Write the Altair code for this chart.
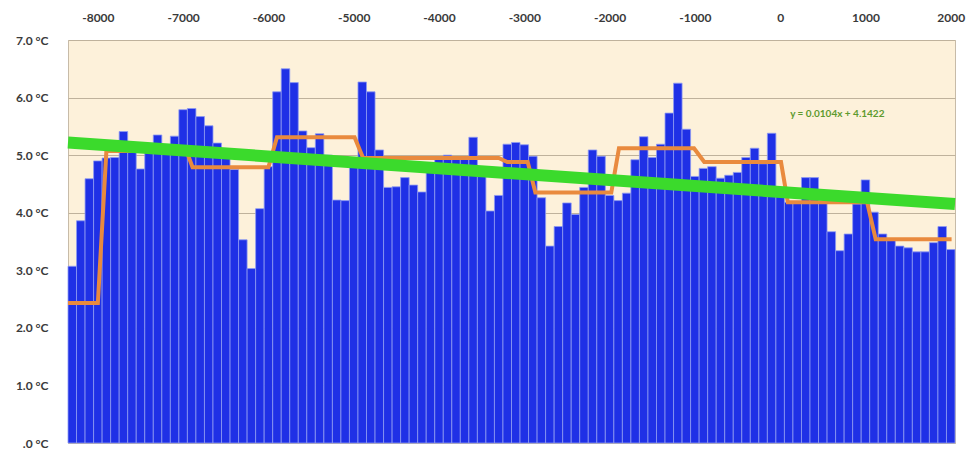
import altair as alt
import pandas as pd

# 100-year bins, centres from -8300 to 2000
years = list(range(-8300, 2001, 100))
temps = [
    3.07, 3.86, 4.59, 4.90, 4.95, 4.96, 5.41, 5.15, 4.76, 5.05,
    5.35, 5.10, 5.33, 5.79, 5.81, 5.67, 5.51, 5.21, 5.10, 4.75,
    3.53, 3.03, 4.07, 4.80, 6.10, 6.50, 6.26, 5.42, 5.13, 5.37,
    5.00, 4.22, 4.21, 4.85, 6.27, 6.10, 5.09, 4.44, 4.45, 4.61,
    4.48, 4.36, 4.70, 4.95, 5.00, 4.95, 4.96, 5.31, 4.80, 4.03,
    4.30, 5.19, 5.22, 5.18, 4.98, 4.26, 3.42, 3.76, 4.17, 3.97,
    4.44, 5.09, 4.98, 4.30, 4.21, 4.34, 4.92, 5.32, 4.96, 5.19,
    5.73, 6.25, 5.45, 4.63, 4.77, 4.80, 4.60, 4.65, 4.70, 4.96,
    5.12, 4.85, 5.38, 4.35, 4.18, 4.18, 4.61, 4.61, 4.18, 3.67,
    3.34, 3.63, 4.15, 4.57, 4.01, 3.63, 3.55, 3.42, 3.39, 3.32,
    3.32, 3.48, 3.76, 3.36,
]

# millennium step averages (orange)
step_years = [-8350, -8000, -7900, -6960, -6890, -6000, -5900, -4990, -4890,
              -3300, -3200, -2960, -2870, -1980, -1890, -1010, -890, 10, 90,
              1020, 1120, 2010]
step_vals = [2.43, 2.43, 5.07, 5.07, 4.79, 4.79, 5.31, 5.31, 4.95,
             4.95, 4.88, 4.88, 4.35, 4.35, 5.12, 5.12, 4.88, 4.88, 4.18,
             4.18, 3.54, 3.54]

# linear trend (green), end points
trend_years = [-8350, 2050]
trend_vals = [5.22, 4.15]

x_ticks = [-8000, -7000, -6000, -5000, -4000, -3000, -2000, -1000, 0, 1000, 2000]
y_ticks = [0, 1, 2, 3, 4, 5, 6, 7]
eq_label = ["y = 0.0104x + 4.1422"]

FONT = "Lato"

df = pd.DataFrame({"year": years, "temp": temps})
df_step = pd.DataFrame({"year": step_years, "temp": step_vals})
df_trend = pd.DataFrame({"year": trend_years, "temp": trend_vals})
df_eq = pd.DataFrame({"year": [670], "temp": [5.71], "t": eq_label})

xscale = alt.Scale(domain=[-8350, 2050], nice=False, zero=False)
yscale = alt.Scale(domain=[0, 7], nice=False)

xaxis = alt.Axis(
    orient="top", values=x_ticks, labelExpr="datum.value + ''",
    domain=False, ticks=False, grid=False, title=None,
    labelFont=FONT, labelFontSize=12, labelFontWeight="bold",
    labelColor="#3a3a3a", labelPadding=16,
)
yaxis = alt.Axis(
    values=y_ticks,
    labelExpr="datum.value == 0 ? '.0 °C' : format(datum.value, '.1f') + ' °C'",
    domain=False, ticks=False, grid=True, gridColor="#BFB29C", gridWidth=1,
    title=None, labelFont=FONT, labelFontSize=12, labelFontWeight="bold",
    labelColor="#3a3a3a", labelPadding=20,
)

bars = alt.Chart(df).transform_calculate(
    x0="datum.year - 50", x1="datum.year + 50"
).mark_bar(color="#1F30E6", stroke="#8E9AF2", strokeWidth=0.8).encode(
    x=alt.X("x0:Q", scale=xscale, axis=xaxis),
    x2="x1:Q",
    y=alt.Y("temp:Q", scale=yscale, axis=yaxis),
    y2=alt.datum(0),
)

step = alt.Chart(df_step).mark_line(color="#E98A3E", strokeWidth=4).encode(
    x=alt.X("year:Q", scale=xscale),
    y=alt.Y("temp:Q", scale=yscale),
)

trend = alt.Chart(df_trend).mark_line(color="#3BDA2C", strokeWidth=12).encode(
    x=alt.X("year:Q", scale=xscale),
    y=alt.Y("temp:Q", scale=yscale),
)

eq = alt.Chart(df_eq).mark_text(
    color="#5E9A2E", fontSize=10, fontWeight="bold", font=FONT
).encode(
    x=alt.X("year:Q", scale=xscale),
    y=alt.Y("temp:Q", scale=yscale),
    text="t:N",
)

chart = alt.layer(bars, step, trend, eq).properties(
    width=887, height=403,
    padding={"left": 68, "top": 40, "right": 20, "bottom": 14},
    autosize="none",
    background="white",
).configure_view(fill="#FDF1DA", stroke="#C7BBA8", strokeWidth=1)

chart.save("out.html", embed_options={"renderer": "svg", "actions": False})
